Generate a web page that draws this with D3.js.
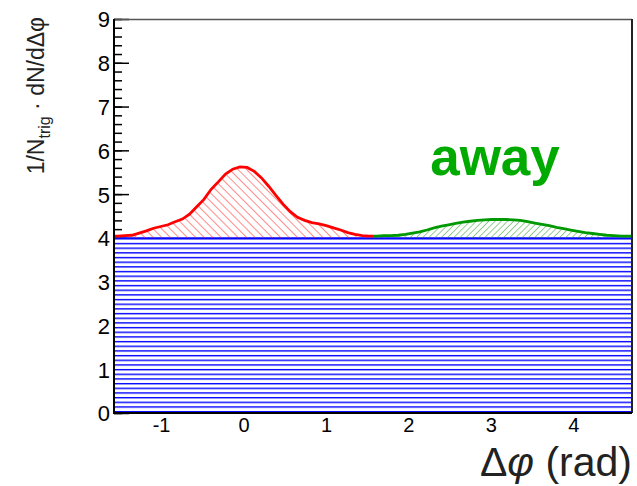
<!DOCTYPE html>
<html>
<head>
<meta charset="utf-8">
<script src="https://cdn.jsdelivr.net/npm/d3@7"></script>
<style>
  body { margin: 0; background: #fff; }
  svg { display: block; font-family: "Liberation Sans", Arial, sans-serif; }
</style>
</head>
<body>
<svg width="637" height="486"></svg>
<script>
// pedestal (blue), near-side peak (red), away-side peak (green)
const pedestal = 4.0;
const nearValues = [4.04, 4.05, 4.06, 4.11, 4.16, 4.22, 4.26, 4.30, 4.37, 4.43, 4.54, 4.71,
  4.88, 5.11, 5.28, 5.46, 5.57, 5.62, 5.61, 5.52, 5.37, 5.18, 4.97, 4.77,
  4.60, 4.47, 4.40, 4.35, 4.32, 4.28, 4.23, 4.18, 4.12, 4.08, 4.05, 4.04];
const awayValues = [4.04, 4.05, 4.05, 4.06, 4.08, 4.11, 4.14, 4.18, 4.23, 4.27, 4.30, 4.33,
  4.36, 4.38, 4.40, 4.41, 4.42, 4.42, 4.42, 4.41, 4.40, 4.37, 4.34, 4.31,
  4.28, 4.24, 4.21, 4.18, 4.15, 4.12, 4.10, 4.08, 4.06, 4.05, 4.04, 4.04];
const yTicks = [0, 1, 2, 3, 4, 5, 6, 7, 8, 9];
const xTicks = [-1, 0, 1, 2, 3, 4];

function createChart() {
  const svg = d3.select("svg");
  const x = d3.scaleLinear().domain([-Math.PI / 2, 3 * Math.PI / 2]).range([114, 632]);
  const y = d3.scaleLinear().domain([0, 9]).range([413, 19]);

  // hatch patterns
  const defs = svg.append("defs");
  defs.append("pattern")
    .attr("id", "hatchBlue")
    .attr("patternUnits", "userSpaceOnUse")
    .attr("width", 10).attr("height", 4.67)
    .append("line")
    .attr("x1", 0).attr("x2", 10).attr("y1", 0.7).attr("y2", 0.7)
    .attr("stroke", "#0000ff").attr("stroke-width", 1.4);
  defs.append("pattern")
    .attr("id", "hatchRed")
    .attr("patternUnits", "userSpaceOnUse")
    .attr("width", 6).attr("height", 6)
    .attr("patternTransform", "rotate(-45)")
    .append("line")
    .attr("x1", 0).attr("x2", 0).attr("y1", 0).attr("y2", 6)
    .attr("stroke", "#ff2a2a").attr("stroke-width", 1.1);
  defs.append("pattern")
    .attr("id", "hatchGreen")
    .attr("patternUnits", "userSpaceOnUse")
    .attr("width", 4.4).attr("height", 4.4)
    .attr("patternTransform", "rotate(45)")
    .append("line")
    .attr("x1", 0).attr("x2", 0).attr("y1", 0).attr("y2", 4.4)
    .attr("stroke", "#2a9a2a").attr("stroke-width", 1);

  // y axis ticks (inside), drawn first so the pedestal covers them
  const yMinor = d3.range(0, 9.001, 0.2);
  svg.append("g")
    .attr("transform", "translate(114,0)")
    .call(d3.axisLeft(y).tickValues(yMinor).tickSize(-8).tickFormat(""))
    .call(g => g.select(".domain").remove());
  const yAxis = svg.append("g")
    .attr("transform", "translate(114,0)")
    .call(d3.axisLeft(y).tickValues(yTicks).tickSize(-15).tickPadding(4).tickFormat(d => String(d)));
  yAxis.select(".domain").remove();
  yAxis.selectAll("text").attr("font-size", 22).attr("fill", "#000").attr("dy", "0.36em");
  svg.selectAll(".tick line").attr("stroke", "#000").attr("stroke-width", 1.5);

  const xAxis = svg.append("g")
    .attr("transform", "translate(0,413)")
    .call(d3.axisBottom(x).tickValues(xTicks).tickSize(-15).tickPadding(5).tickFormat(d => String(d)));
  xAxis.select(".domain").remove();
  xAxis.selectAll("text").attr("font-size", 20).attr("fill", "#000");

  // pedestal
  const x0 = x(-Math.PI / 2), x1 = x(3 * Math.PI / 2);
  svg.append("rect")
    .attr("x", x0).attr("width", x1 - x0)
    .attr("y", y(pedestal)).attr("height", y(0) - y(pedestal))
    .attr("fill", "#fff");
  svg.append("rect")
    .attr("x", x0).attr("width", x1 - x0)
    .attr("y", y(pedestal)).attr("height", y(0) - y(pedestal))
    .attr("fill", "url(#hatchBlue)");
  svg.append("line")
    .attr("x1", x0).attr("x2", x1)
    .attr("y1", y(pedestal)).attr("y2", y(pedestal))
    .attr("stroke", "#0000ff").attr("stroke-width", 1.5);

  function drawPeak(values, start, hatch, color) {
    const w = Math.PI / values.length;
    const pts = values.map((v, i) => [start + (i + 0.5) * w, v]);
    pts.unshift([start, values[0]]);
    pts.push([start + Math.PI, values[values.length - 1]]);
    const area = d3.area()
      .x(d => x(d[0])).y0(y(pedestal)).y1(d => y(d[1]));
    const line = d3.line()
      .x(d => x(d[0])).y(d => y(d[1]));
    svg.append("path").datum(pts).attr("d", area).attr("fill", hatch);
    svg.append("path").datum(pts).attr("d", line)
      .attr("fill", "none").attr("stroke", color).attr("stroke-width", 2.8);
  }
  drawPeak(nearValues, -Math.PI / 2, "url(#hatchRed)", "#ff0000");
  drawPeak(awayValues, Math.PI / 2, "url(#hatchGreen)", "#009a00");

  // frame
  svg.append("line").attr("x1", 114).attr("x2", 632).attr("y1", 19.5).attr("y2", 19.5)
    .attr("stroke", "#555").attr("stroke-width", 1.5);
  svg.append("line").attr("x1", 632).attr("x2", 632).attr("y1", 19).attr("y2", 413)
    .attr("stroke", "#222").attr("stroke-width", 2);
  svg.append("line").attr("x1", 114).attr("x2", 632).attr("y1", 413).attr("y2", 413)
    .attr("stroke", "#000").attr("stroke-width", 2);
  svg.append("line").attr("x1", 114).attr("x2", 114).attr("y1", 19).attr("y2", 414)
    .attr("stroke", "#000").attr("stroke-width", 2);

  // label
  svg.append("text")
    .attr("x", 495).attr("y", 175)
    .attr("text-anchor", "middle")
    .attr("font-size", 53).attr("font-weight", "bold")
    .attr("fill", "#00aa00")
    .text("away");

  // axis titles
  const yt = svg.append("text")
    .attr("transform", "translate(44,17) rotate(-90)")
    .attr("text-anchor", "end")
    .attr("font-size", 23).attr("fill", "#222");
  yt.append("tspan").text("1/N");
  yt.append("tspan").attr("font-size", 16).attr("dy", 6).text("trig");
  yt.append("tspan").attr("dy", -6).text(" \u00B7 dN/d\u0394\u03C6");

  const xt = svg.append("text")
    .attr("x", 632).attr("y", 476)
    .attr("text-anchor", "end")
    .attr("font-size", 41).attr("fill", "#222");
  xt.append("tspan").text("\u0394");
  xt.append("tspan").attr("font-style", "italic").text("\u03C6");
  xt.append("tspan").text(" (rad)");
}

createChart();
</script>
</body>
</html>
